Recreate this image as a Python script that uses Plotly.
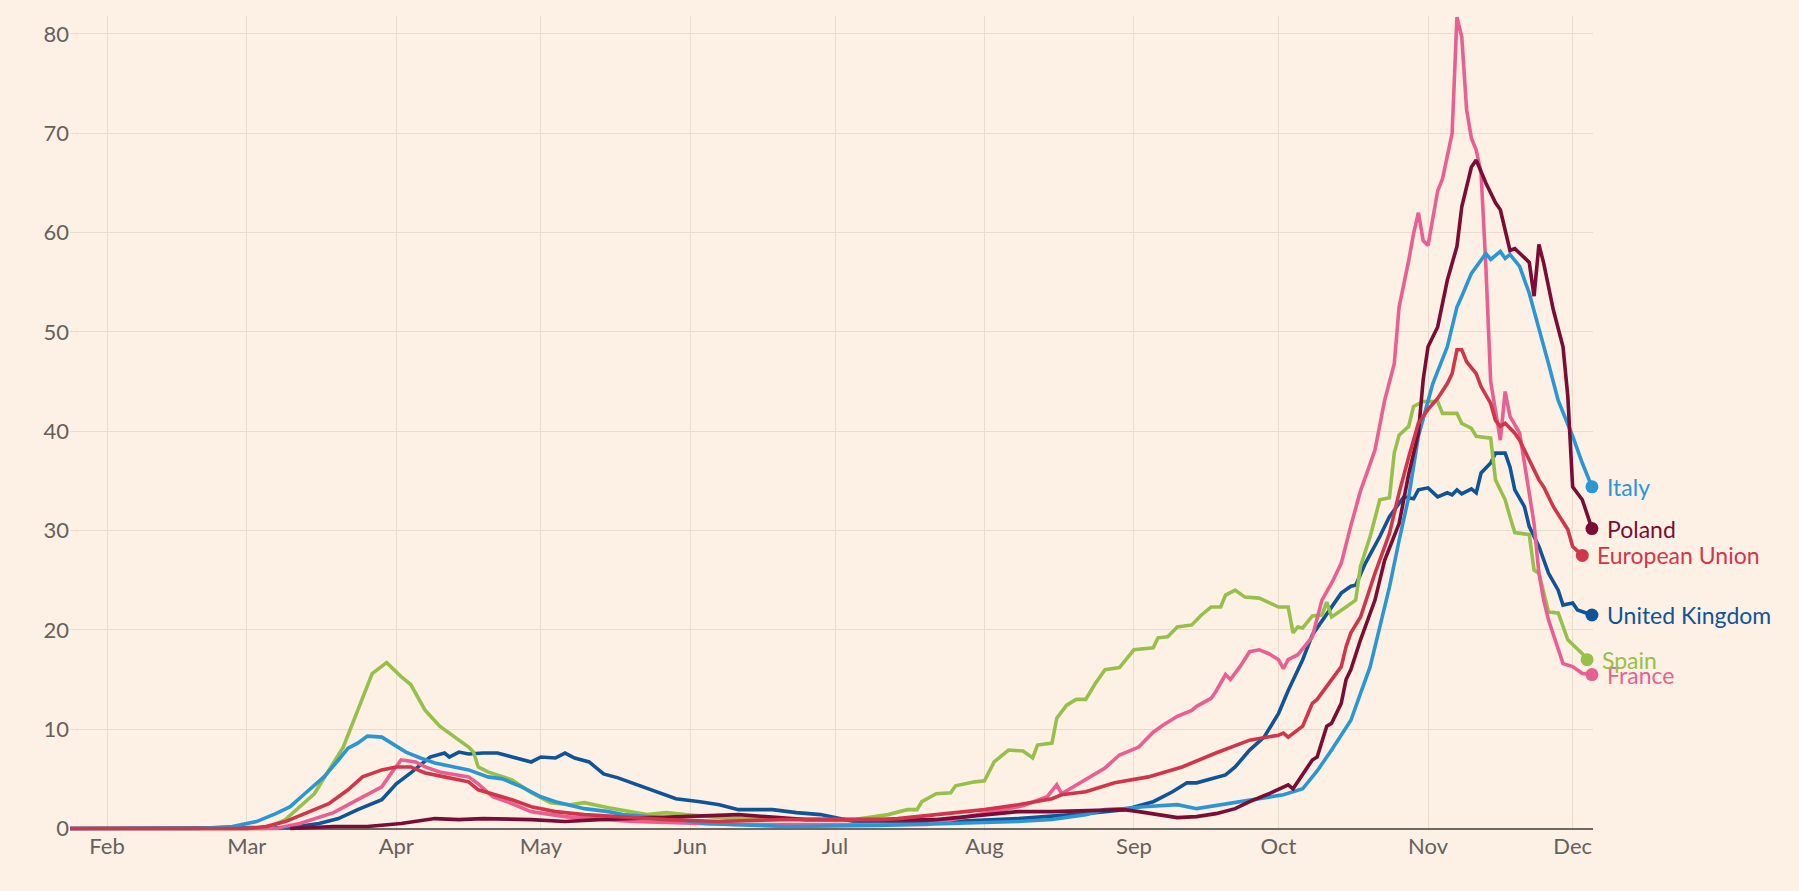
import plotly.graph_objects as go

# ---------------- data ----------------
italy_dates = ["2020-01-24", "2020-02-20", "2020-02-27", "2020-03-03", "2020-03-07", "2020-03-10", "2020-03-13",
               "2020-03-17", "2020-03-20", "2020-03-22", "2020-03-24", "2020-03-26", "2020-03-29", "2020-03-31",
               "2020-04-03", "2020-04-06", "2020-04-09", "2020-04-13", "2020-04-16", "2020-04-20", "2020-04-23",
               "2020-04-27", "2020-05-01", "2020-05-04", "2020-05-10", "2020-05-15", "2020-05-18", "2020-05-28",
               "2020-06-04", "2020-06-21", "2020-07-10", "2020-07-25", "2020-08-08", "2020-08-15", "2020-08-22",
               "2020-08-26", "2020-08-30", "2020-09-03", "2020-09-10", "2020-09-14", "2020-09-19", "2020-09-23",
               "2020-09-27", "2020-10-02", "2020-10-06", "2020-10-09", "2020-10-12", "2020-10-16", "2020-10-18",
               "2020-10-20", "2020-10-22", "2020-10-24", "2020-10-26", "2020-10-28", "2020-10-30", "2020-11-02",
               "2020-11-05", "2020-11-07", "2020-11-08", "2020-11-10", "2020-11-13", "2020-11-14", "2020-11-16",
               "2020-11-17", "2020-11-18", "2020-11-20", "2020-11-22", "2020-11-24", "2020-11-26", "2020-11-28",
               "2020-12-01", "2020-12-03", "2020-12-05"]
italy_values = [0, 0, 0.2, 0.7, 1.5, 2.2, 3.5,
                5.2, 6.9, 8.1, 8.6, 9.3, 9.2, 8.6,
                7.7, 7.1, 6.6, 6.2, 5.9, 5.2, 5.0,
                4.2, 3.2, 2.7, 2.0, 1.7, 1.4, 1.0,
                0.5, 0.2, 0.3, 0.5, 0.7, 0.9, 1.4,
                1.9, 2.0, 2.2, 2.4, 2.0, 2.4, 2.7,
                3.0, 3.4, 4.0, 5.8, 7.9, 10.9, 13.6,
                16.3, 20.3, 24.3, 29.0, 33.4, 39.5, 44.8,
                48.5, 52.5, 53.6, 55.9, 57.9, 57.3, 58.1,
                57.4, 57.8, 56.6, 53.9, 50.5, 46.8, 43.1,
                39.5, 36.8, 34.4]

spain_dates = ["2020-01-24", "2020-03-05", "2020-03-09", "2020-03-15", "2020-03-21", "2020-03-24", "2020-03-27",
               "2020-03-30", "2020-04-02", "2020-04-04", "2020-04-07", "2020-04-10", "2020-04-13", "2020-04-16",
               "2020-04-17", "2020-04-18", "2020-04-20", "2020-04-25", "2020-04-29", "2020-05-03", "2020-05-07",
               "2020-05-10", "2020-05-15", "2020-05-23", "2020-05-27", "2020-05-31", "2020-06-10", "2020-06-25",
               "2020-07-05", "2020-07-12", "2020-07-16", "2020-07-18", "2020-07-19", "2020-07-22", "2020-07-25",
               "2020-07-26", "2020-07-30", "2020-08-01", "2020-08-03", "2020-08-06", "2020-08-09", "2020-08-11",
               "2020-08-12", "2020-08-15", "2020-08-16", "2020-08-18", "2020-08-20", "2020-08-22", "2020-08-24",
               "2020-08-26", "2020-08-29", "2020-09-01", "2020-09-05", "2020-09-06", "2020-09-08", "2020-09-10",
               "2020-09-13", "2020-09-15", "2020-09-17", "2020-09-19", "2020-09-20", "2020-09-22", "2020-09-23",
               "2020-09-24", "2020-09-27", "2020-09-29", "2020-10-01", "2020-10-03", "2020-10-04", "2020-10-05",
               "2020-10-06", "2020-10-08", "2020-10-10", "2020-10-11", "2020-10-12", "2020-10-15", "2020-10-17",
               "2020-10-18", "2020-10-20", "2020-10-22", "2020-10-24", "2020-10-25", "2020-10-26", "2020-10-28",
               "2020-10-29", "2020-10-31", "2020-11-03", "2020-11-04", "2020-11-07", "2020-11-08", "2020-11-10",
               "2020-11-11", "2020-11-14", "2020-11-15", "2020-11-17", "2020-11-18", "2020-11-19", "2020-11-22",
               "2020-11-23", "2020-11-24", "2020-11-26", "2020-11-28", "2020-11-30", "2020-12-03", "2020-12-04"]
spain_values = [0, 0, 0.9, 3.5, 8.2, 11.9, 15.6,
                16.7, 15.3, 14.5, 11.9, 10.3, 9.2, 8.2,
                7.7, 6.2, 5.7, 4.9, 3.6, 2.6, 2.4,
                2.6, 2.1, 1.4, 1.6, 1.4, 1.0, 0.9,
                0.9, 1.4, 1.9, 1.9, 2.7, 3.5, 3.6,
                4.3, 4.7, 4.8, 6.7, 7.9, 7.8, 7.1,
                8.4, 8.6, 11.1, 12.4, 13.0, 13.0, 14.6,
                16.0, 16.2, 18.0, 18.2, 19.2, 19.3, 20.3,
                20.5, 21.5, 22.3, 22.3, 23.5, 24.0, 23.7,
                23.3, 23.2, 22.7, 22.3, 22.3, 19.7, 20.3,
                20.2, 21.4, 21.5, 22.8, 21.3, 22.3, 23.0,
                26.4, 29.4, 33.1, 33.3, 37.8, 39.6, 40.5,
                42.5, 43.0, 43.0, 41.8, 41.8, 40.8, 40.3,
                39.5, 39.3, 35.1, 33.1, 31.4, 29.8, 29.6,
                26.0, 25.7, 21.8, 21.7, 19.0, 17.6, 17.0]

france_dates = ["2020-01-24", "2020-03-07", "2020-03-12", "2020-03-19", "2020-03-24", "2020-03-29", "2020-03-31",
                "2020-04-02", "2020-04-05", "2020-04-07", "2020-04-10", "2020-04-14", "2020-04-16", "2020-04-18",
                "2020-04-21", "2020-04-24", "2020-04-29", "2020-05-06", "2020-05-20", "2020-06-10", "2020-07-20",
                "2020-08-04", "2020-08-09", "2020-08-14", "2020-08-16", "2020-08-17", "2020-08-22", "2020-08-26",
                "2020-08-29", "2020-09-02", "2020-09-03", "2020-09-05", "2020-09-07", "2020-09-10", "2020-09-13",
                "2020-09-14", "2020-09-17", "2020-09-18", "2020-09-20", "2020-09-21", "2020-09-23", "2020-09-25",
                "2020-09-27", "2020-09-29", "2020-10-01", "2020-10-02", "2020-10-03", "2020-10-05", "2020-10-08",
                "2020-10-10", "2020-10-12", "2020-10-14", "2020-10-16", "2020-10-18", "2020-10-21", "2020-10-23",
                "2020-10-25", "2020-10-26", "2020-10-28", "2020-10-29", "2020-10-30", "2020-10-31", "2020-11-01",
                "2020-11-03", "2020-11-04", "2020-11-06", "2020-11-07", "2020-11-08", "2020-11-09", "2020-11-10",
                "2020-11-11", "2020-11-12", "2020-11-13", "2020-11-14", "2020-11-16", "2020-11-17", "2020-11-18",
                "2020-11-20", "2020-11-21", "2020-11-23", "2020-11-24", "2020-11-25", "2020-11-26", "2020-11-28",
                "2020-11-29", "2020-12-01", "2020-12-03", "2020-12-05"]
france_values = [0, 0, 0.5, 1.6, 2.9, 4.2, 5.6,
                 6.9, 6.7, 6.2, 5.7, 5.4, 5.2, 4.5,
                 3.2, 2.7, 1.7, 1.2, 0.7, 0.4, 0.4,
                 1.8, 2.3, 3.2, 4.4, 3.5, 4.9, 6.1,
                 7.4, 8.2, 8.7, 9.7, 10.4, 11.3, 11.9,
                 12.3, 13.1, 13.8, 15.5, 15.0, 16.3, 17.8,
                 18.0, 17.6, 17.0, 16.1, 17.0, 17.5, 19.3,
                 23.0, 24.7, 26.7, 30.5, 34.0, 38.1, 43.1,
                 46.8, 52.5, 57.2, 59.9, 62.0, 59.2, 58.7,
                 64.2, 65.4, 70.0, 81.7, 79.7, 72.4, 69.5,
                 68.3, 66.0, 56.6, 45.0, 39.1, 44.0, 41.5,
                 39.8, 36.8, 30.7, 25.7, 23.0, 21.0, 18.0,
                 16.6, 16.3, 15.6, 15.5]

poland_dates = ["2020-03-10", "2020-03-19", "2020-03-26", "2020-04-02", "2020-04-09", "2020-04-14", "2020-04-19",
                "2020-04-29", "2020-05-06", "2020-05-13", "2020-06-11", "2020-06-25", "2020-07-22", "2020-08-01",
                "2020-08-08", "2020-08-15", "2020-08-22", "2020-08-30", "2020-09-02", "2020-09-06", "2020-09-10",
                "2020-09-14", "2020-09-18", "2020-09-22", "2020-09-25", "2020-09-29", "2020-10-03", "2020-10-04",
                "2020-10-06", "2020-10-08", "2020-10-09", "2020-10-11", "2020-10-12", "2020-10-14", "2020-10-15",
                "2020-10-16", "2020-10-18", "2020-10-21", "2020-10-23", "2020-10-26", "2020-10-28", "2020-10-30",
                "2020-10-31", "2020-11-01", "2020-11-03", "2020-11-05", "2020-11-07", "2020-11-08", "2020-11-10",
                "2020-11-11", "2020-11-13", "2020-11-15", "2020-11-16", "2020-11-18", "2020-11-19", "2020-11-21",
                "2020-11-22", "2020-11-23", "2020-11-24", "2020-11-25", "2020-11-27", "2020-11-29", "2020-11-30",
                "2020-12-01", "2020-12-03", "2020-12-05"]
poland_values = [0, 0.2, 0.2, 0.5, 1.0, 0.9, 1.0,
                 0.9, 0.7, 0.9, 1.4, 0.9, 0.9, 1.4,
                 1.7, 1.7, 1.8, 1.9, 1.7, 1.4, 1.1,
                 1.2, 1.5, 2.0, 2.7, 3.5, 4.4, 4.0,
                 5.4, 6.9, 7.2, 10.3, 10.6, 12.6, 15.0,
                 16.0, 19.0, 23.0, 27.0, 30.7, 35.7, 39.8,
                 45.2, 48.5, 50.5, 55.2, 58.6, 62.6, 66.6,
                 67.3, 65.0, 63.0, 62.3, 58.2, 58.4, 57.5,
                 57.0, 53.6, 58.8, 56.9, 52.2, 48.5, 43.5,
                 34.4, 33.1, 30.2]

eu_dates = ["2020-01-24", "2020-03-01", "2020-03-05", "2020-03-09", "2020-03-13", "2020-03-18", "2020-03-22",
            "2020-03-25", "2020-03-29", "2020-04-01", "2020-04-04", "2020-04-07", "2020-04-11", "2020-04-16",
            "2020-04-18", "2020-04-21", "2020-04-25", "2020-04-29", "2020-05-04", "2020-05-10", "2020-05-17",
            "2020-05-27", "2020-06-07", "2020-06-20", "2020-07-10", "2020-07-14", "2020-07-22", "2020-07-29",
            "2020-08-01", "2020-08-08", "2020-08-15", "2020-08-17", "2020-08-22", "2020-08-28", "2020-09-04",
            "2020-09-11", "2020-09-18", "2020-09-25", "2020-10-01", "2020-10-02", "2020-10-03", "2020-10-06",
            "2020-10-08", "2020-10-09", "2020-10-12", "2020-10-14", "2020-10-15", "2020-10-16", "2020-10-18",
            "2020-10-21", "2020-10-24", "2020-10-26", "2020-10-28", "2020-10-30", "2020-11-01", "2020-11-03",
            "2020-11-05", "2020-11-06", "2020-11-07", "2020-11-08", "2020-11-09", "2020-11-11", "2020-11-12",
            "2020-11-14", "2020-11-15", "2020-11-16", "2020-11-17", "2020-11-19", "2020-11-20", "2020-11-22",
            "2020-11-24", "2020-11-25", "2020-11-27", "2020-11-30", "2020-12-01", "2020-12-03"]
eu_values = [0, 0, 0.2, 0.7, 1.5, 2.5, 3.9,
             5.2, 5.9, 6.2, 6.2, 5.6, 5.2, 4.7,
             3.9, 3.5, 2.9, 2.2, 1.7, 1.4, 1.2,
             0.9, 0.7, 0.9, 0.9, 1.0, 1.4, 1.7,
             1.9, 2.4, 3.0, 3.4, 3.7, 4.6, 5.2,
             6.2, 7.6, 8.9, 9.4, 9.6, 9.2, 10.3,
             12.6, 13.0, 15.0, 16.3, 18.3, 19.7, 21.3,
             25.7, 29.7, 33.8, 37.4, 40.8, 42.2, 43.3,
             44.8, 45.8, 48.2, 48.2, 47.0, 45.8, 44.5,
             42.8, 41.1, 40.5, 40.8, 39.8, 39.1, 37.1,
             35.1, 34.4, 32.4, 30.1, 28.4, 27.5]

uk_dates = ["2020-01-24", "2020-03-10", "2020-03-16", "2020-03-20", "2020-03-24", "2020-03-29", "2020-04-01",
            "2020-04-04", "2020-04-08", "2020-04-11", "2020-04-12", "2020-04-14", "2020-04-16", "2020-04-19",
            "2020-04-22", "2020-04-26", "2020-04-29", "2020-05-01", "2020-05-04", "2020-05-06", "2020-05-08",
            "2020-05-11", "2020-05-14", "2020-05-17", "2020-05-21", "2020-05-25", "2020-05-29", "2020-06-03",
            "2020-06-07", "2020-06-11", "2020-06-18", "2020-06-23", "2020-06-28", "2020-07-02", "2020-07-05",
            "2020-07-15", "2020-07-25", "2020-08-08", "2020-08-22", "2020-08-30", "2020-09-05", "2020-09-09",
            "2020-09-12", "2020-09-14", "2020-09-17", "2020-09-20", "2020-09-22", "2020-09-25", "2020-09-28",
            "2020-10-01", "2020-10-03", "2020-10-06", "2020-10-08", "2020-10-11", "2020-10-14", "2020-10-16",
            "2020-10-17", "2020-10-19", "2020-10-22", "2020-10-24", "2020-10-27", "2020-10-29", "2020-10-30",
            "2020-11-01", "2020-11-03", "2020-11-05", "2020-11-06", "2020-11-07", "2020-11-08", "2020-11-10",
            "2020-11-11", "2020-11-12", "2020-11-14", "2020-11-15", "2020-11-17", "2020-11-18", "2020-11-19",
            "2020-11-21", "2020-11-22", "2020-11-24", "2020-11-25", "2020-11-26", "2020-11-28", "2020-11-29",
            "2020-12-01", "2020-12-02", "2020-12-05"]
uk_values = [0, 0.1, 0.5, 1.0, 1.9, 2.9, 4.5,
             5.6, 7.2, 7.6, 7.2, 7.7, 7.5, 7.6,
             7.6, 7.1, 6.7, 7.2, 7.1, 7.6, 7.1,
             6.7, 5.5, 5.1, 4.4, 3.7, 3.0, 2.7,
             2.4, 1.9, 1.9, 1.6, 1.4, 1.0, 0.7,
             0.6, 0.7, 1.0, 1.5, 1.9, 2.7, 3.7,
             4.6, 4.6, 5.0, 5.4, 6.2, 7.9, 9.2,
             11.6, 13.9, 17.0, 19.5, 21.6, 23.7, 24.4,
             24.5, 26.7, 29.4, 31.4, 33.4, 33.2, 34.1,
             34.3, 33.4, 33.8, 33.6, 34.1, 33.7, 34.2,
             33.8, 35.8, 36.8, 37.8, 37.8, 36.4, 34.1,
             32.4, 30.4, 28.4, 27.0, 25.7, 24.0, 22.5,
             22.7, 22.0, 21.5]

y_ticks = [0, 10, 20, 30, 40, 50, 60, 70, 80]

# ---------------- styling ----------------
BG = "#fdf1e6"
GRID = "#e8dccf"
TEXT = "#66605c"
FONT = "Lato"

# drawing order: bottom -> top
series = [
    ("United Kingdom", uk_dates, uk_values, "#0f5499"),
    ("Spain", spain_dates, spain_values, "#96c04a"),
    ("France", france_dates, france_values, "#ea5f91"),
    ("Italy", italy_dates, italy_values, "#2a96d4"),
    ("Poland", poland_dates, poland_values, "#7b0c34"),
    ("European Union", eu_dates, eu_values, "#d0364a"),
]

fig = go.Figure()
for name, xs, ys, col in series:
    fig.add_trace(go.Scatter(x=xs, y=ys, mode="lines", name=name,
                             line=dict(color=col, width=3.6, shape="linear"),
                             hoverinfo="skip", showlegend=False))
for name, xs, ys, col in series:
    fig.add_trace(go.Scatter(x=[xs[-1]], y=[ys[-1]], mode="markers",
                             marker=dict(color=col, size=13), hoverinfo="skip",
                             showlegend=False, cliponaxis=False))

# label order keeps "Spain" drawn above "France" (as in the original)
label_order = ["United Kingdom", "Italy", "Poland", "European Union", "France", "Spain"]
lookup = {s[0]: s for s in series}
for name in label_order:
    _, xs, ys, col = lookup[name]
    fig.add_annotation(x=xs[-1], y=ys[-1], text=name, showarrow=False,
                       xanchor="left", yanchor="middle", xshift=13,
                       font=dict(family=FONT, size=23, color=col))

fig.update_layout(
    width=1799, height=891,
    paper_bgcolor=BG, plot_bgcolor=BG,
    margin=dict(l=70, r=206, t=16, b=60),
    font=dict(family=FONT, color=TEXT, size=22),
    xaxis=dict(
        type="date",
        range=["2020-01-24 07:48", "2020-12-05 05:17"],
        tick0="2020-02-01", dtick="M1", tickformat="%b",
        showgrid=True, gridcolor=GRID, gridwidth=1,
        showline=False, zeroline=False, ticks="",
        tickfont=dict(family=FONT, size=22, color=TEXT),
        fixedrange=True,
    ),
    yaxis=dict(
        range=[-0.25, 81.81],
        tickvals=y_ticks,
        showgrid=True, gridcolor=GRID, gridwidth=1,
        zeroline=True, zerolinecolor="#6f6965", zerolinewidth=2,
        showline=False, ticks="",
        tickfont=dict(family=FONT, size=22, color=TEXT),
        fixedrange=True,
    ),
)

fig.write_html(
    "out.html",
    config={"displayModeBar": False},
    post_script="document.body.style.margin='0';document.body.style.background='" + BG + "';",
)
